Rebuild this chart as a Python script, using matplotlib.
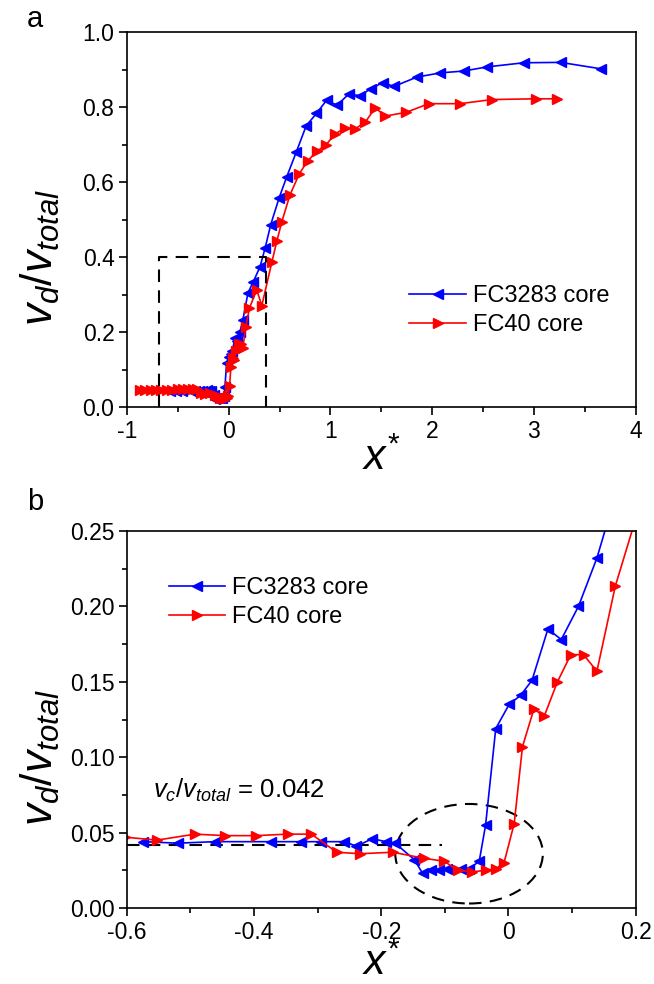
import matplotlib
matplotlib.use('Agg')
import matplotlib.pyplot as plt
from matplotlib.patches import Ellipse
from matplotlib.ticker import MultipleLocator

plt.rcParams['font.family'] = ['Liberation Sans', 'DejaVu Sans']
plt.rcParams['mathtext.fontset'] = 'custom'
plt.rcParams['mathtext.rm'] = 'Liberation Sans'
plt.rcParams['mathtext.it'] = 'Liberation Sans:italic'
plt.rcParams['axes.unicode_minus'] = False

# FC3283 core (blue, left triangles)
fc3283_x = [-0.574, -0.520, -0.462, -0.373, -0.326, -0.295, -0.258, -0.239, -0.214,
            -0.193, -0.178, -0.148, -0.135, -0.122, -0.109, -0.096, -0.075, -0.062,
            -0.046, -0.036, -0.020, 0.001, 0.019, 0.037, 0.062, 0.083, 0.110, 0.139,
            0.190, 0.243, 0.309, 0.358, 0.414, 0.496, 0.572, 0.663, 0.762, 0.863,
            0.962, 1.064, 1.183, 1.293, 1.395, 1.515, 1.625, 1.851, 2.081, 2.310,
            2.540, 2.901, 3.262, 3.656]
fc3283_y = [0.044, 0.043, 0.044, 0.044, 0.044, 0.044, 0.044, 0.041, 0.046,
            0.044, 0.043, 0.032, 0.023, 0.025, 0.025, 0.026, 0.026, 0.026,
            0.031, 0.055, 0.119, 0.135, 0.141, 0.151, 0.185, 0.178, 0.200, 0.232,
            0.305, 0.335, 0.375, 0.424, 0.487, 0.558, 0.615, 0.679, 0.750, 0.783,
            0.818, 0.805, 0.835, 0.830, 0.849, 0.865, 0.855, 0.880, 0.891, 0.896,
            0.907, 0.918, 0.919, 0.902]

# FC40 core (red, right triangles)
fc40_x = [-0.870, -0.820, -0.760, -0.710, -0.660, -0.603, -0.553, -0.493, -0.446,
          -0.397, -0.347, -0.310, -0.270, -0.233, -0.182, -0.133, -0.101, -0.080,
          -0.057, -0.036, -0.020, -0.007, 0.009, 0.022, 0.040, 0.056, 0.077, 0.098,
          0.118, 0.139, 0.168, 0.205, 0.276, 0.326, 0.424, 0.473, 0.523, 0.604,
          0.696, 0.775, 0.867, 0.959, 1.047, 1.146, 1.244, 1.343, 1.441, 1.539,
          1.746, 1.966, 2.271, 2.589, 3.016, 3.229]
fc40_y = [0.046, 0.045, 0.047, 0.046, 0.047, 0.047, 0.045, 0.049, 0.048,
          0.048, 0.049, 0.049, 0.037, 0.036, 0.037, 0.033, 0.031, 0.025,
          0.024, 0.025, 0.026, 0.030, 0.056, 0.107, 0.132, 0.127, 0.150, 0.168,
          0.168, 0.157, 0.2135, 0.265, 0.313, 0.271, 0.386, 0.442, 0.495, 0.567,
          0.623, 0.656, 0.682, 0.700, 0.729, 0.744, 0.742, 0.760, 0.798, 0.776,
          0.786, 0.809, 0.809, 0.820, 0.822, 0.822]

vc_ratio = 0.042

a_xticks = [-1, 0, 1, 2, 3, 4]
a_xticklabels = ['-1', '0', '1', '2', '3', '4']
a_yticks = [0.0, 0.2, 0.4, 0.6, 0.8, 1.0]
a_yticklabels = ['0.0', '0.2', '0.4', '0.6', '0.8', '1.0']
b_xticks = [-0.6, -0.4, -0.2, 0.0, 0.2]
b_xticklabels = ['-0.6', '-0.4', '-0.2', '0', '0.2']
b_yticks = [0.00, 0.05, 0.10, 0.15, 0.20, 0.25]
b_yticklabels = ['0.00', '0.05', '0.10', '0.15', '0.20', '0.25']

ylab = r'$\mathit{v_d/v_{total}}$'
xlab = r'$\mathit{x}^{*}$'


def style_axes(ax, xt, xtl, yt, ytl, xminor, yminor, xpad):
    for s in ax.spines.values():
        s.set_linewidth(1.2)
    ax.set_xticks(xt)
    ax.set_xticklabels(xtl)
    ax.set_yticks(yt)
    ax.set_yticklabels(ytl)
    ax.xaxis.set_minor_locator(MultipleLocator(xminor))
    ax.yaxis.set_minor_locator(MultipleLocator(yminor))
    ax.tick_params(which='major', direction='out', length=6, width=1.2,
                   labelsize=16.5, pad=3, top=False, right=False)
    ax.tick_params(which='minor', direction='out', length=3.5, width=1.2,
                   top=False, right=False)
    ax.set_xlabel(xlab, fontsize=31, labelpad=xpad)
    ax.set_ylabel(ylab, fontsize=32)
    ax.yaxis.set_label_coords(-0.128, 0.40)


def draw_series(ax):
    ax.plot(fc3283_x, fc3283_y, color='#0000ff', marker='<', ms=7.5, lw=1.2,
            label='FC3283 core')
    ax.plot(fc40_x, fc40_y, color='#ff0000', marker='>', ms=7.5, lw=1.2,
            label='FC40 core')


fig = plt.figure(figsize=(6.54, 9.84), dpi=100)

# panel a
ax_a = fig.add_axes([0.194, 0.586, 0.778, 0.3815])
draw_series(ax_a)
ax_a.plot([-0.68, -0.68, 0.37, 0.37], [0.0, 0.4, 0.4, 0.0], color='black',
          lw=1.5, ls=(0, (6, 4)), clip_on=False)
ax_a.set_xlim(-1, 4)
ax_a.set_ylim(0, 1.0)
style_axes(ax_a, a_xticks, a_xticklabels, a_yticks, a_yticklabels, 0.5, 0.1, -3)
ax_a.legend(loc='upper left', bbox_to_anchor=(0.555, 0.325), frameon=False,
            fontsize=17, handlelength=2.4, handletextpad=0.3, labelspacing=0.3,
            borderpad=0, borderaxespad=0, numpoints=1)

# panel b
ax_b = fig.add_axes([0.194, 0.0772, 0.778, 0.3832])
draw_series(ax_b)
ax_b.plot([-0.6, -0.104], [vc_ratio, vc_ratio], color='black', lw=1.5,
          ls=(0, (6, 4)), zorder=1)
ax_b.add_patch(Ellipse((-0.062, 0.036), 0.232, 0.066, fill=False,
                       edgecolor='black', lw=1.5, ls=(0, (6, 4))))
ax_b.text(-0.559, 0.073, r'$\mathit{v_c/v_{total}}$ = ' + f'{vc_ratio:.3f}',
          fontsize=18.5, ha='left', va='baseline')
ax_b.set_xlim(-0.6, 0.2)
ax_b.set_ylim(0, 0.25)
style_axes(ax_b, b_xticks, b_xticklabels, b_yticks, b_yticklabels, 0.1, 0.025, 0)
ax_b.legend(loc='upper left', bbox_to_anchor=(0.082, 0.878), frameon=False,
            fontsize=17, handlelength=2.4, handletextpad=0.3, labelspacing=0.3,
            borderpad=0, borderaxespad=0, numpoints=1)

fig.text(27 / 654, 1 - 27 / 984, 'a', fontsize=21, va='baseline')
fig.text(27 / 654, 1 - 510 / 984, 'b', fontsize=21, va='baseline')

fig.savefig('out.png', dpi=100)
